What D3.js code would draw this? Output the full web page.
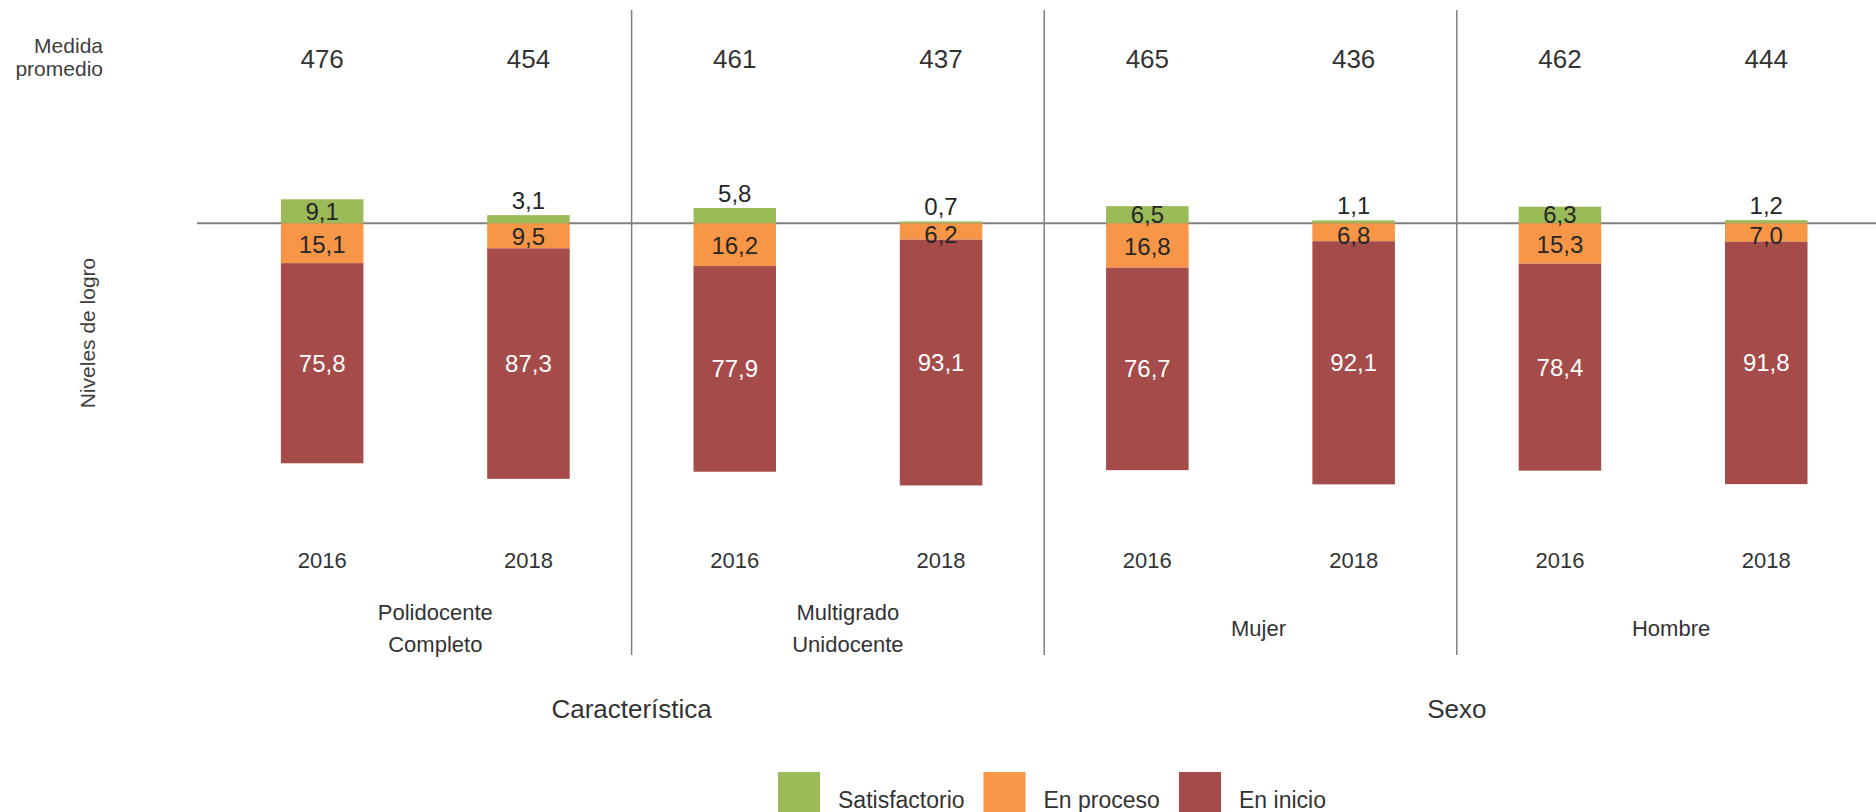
<!DOCTYPE html>
<html>
<head>
<meta charset="utf-8">
<script src="https://cdn.jsdelivr.net/npm/d3@7"></script>
<style>
    body { margin: 0; background: #fff; }
    svg { display: block; font-family: "Liberation Sans", Arial, sans-serif; }
</style>
</head>
<body>
<svg id="chart" width="1876" height="812"></svg>
<script>
// Data
const groups = [["Polidocente", "Completo"], ["Multigrado", "Unidocente"], ["Mujer"], ["Hombre"]];
const years = ["2016", "2018"];
const dimensions = [
    { name: "Característica", groups: [0, 1] },
    { name: "Sexo", groups: [2, 3] }
];
const satisfactorio = [9.1, 3.1, 5.8, 0.7, 6.5, 1.1, 6.3, 1.2];
const enProceso = [15.1, 9.5, 16.2, 6.2, 16.8, 6.8, 15.3, 7.0];
const enInicio = [75.8, 87.3, 77.9, 93.1, 76.7, 92.1, 78.4, 91.8];
const medidaPromedio = [476, 454, 461, 437, 465, 436, 462, 444];
const seriesNames = ["Satisfactorio", "En proceso", "En inicio"];
const seriesColors = ["#9BBB59", "#F79646", "#A54B4A"];

const textColor = "#404040";
const lineColor = "#808080";
const fmt = d3.formatLocale({ decimal: ",", thousands: ".", grouping: [3], currency: ["", ""] }).format(".1f");

// one entry per bar
const bars = [];
groups.forEach((g, gi) => {
    years.forEach((y, yi) => {
        const i = gi * years.length + yi;
        bars.push({
            key: `${gi}-${y}`, group: gi, year: y,
            sat: satisfactorio[i], proc: enProceso[i], ini: enInicio[i],
            medida: medidaPromedio[i]
        });
    });
});

const svg = d3.select("#chart");

const x = d3.scaleBand()
    .domain(bars.map(d => d.key))
    .range([219, 1869.4])
    .paddingInner(0.6)
    .paddingOuter(0.3);

// green grows upwards from 0, orange and red hang below it
const y = d3.scaleLinear().domain([-30, 100]).range([144.1, 487.3]);
const y0 = y(0);
const step = x.step();

// baseline
svg.append("line")
    .attr("x1", 197).attr("x2", 1876)
    .attr("y1", y0).attr("y2", y0)
    .attr("stroke", lineColor).attr("stroke-width", 2);

// group separators
for (let gi = 1; gi < groups.length; gi++) {
    const sx = x.range()[0] + gi * years.length * step;
    svg.append("line")
        .attr("x1", sx).attr("x2", sx)
        .attr("y1", 10).attr("y2", 655)
        .attr("stroke", lineColor).attr("stroke-width", 1.5);
}

const barG = svg.append("g")
    .selectAll("g")
    .data(bars)
    .join("g")
    .attr("transform", d => `translate(${x(d.key)},0)`);

const bw = x.bandwidth();

barG.append("rect")
    .attr("width", bw)
    .attr("y", d => y(-d.sat))
    .attr("height", d => y0 - y(-d.sat))
    .attr("fill", seriesColors[0]);

barG.append("rect")
    .attr("width", bw)
    .attr("y", y0)
    .attr("height", d => y(d.proc) - y0)
    .attr("fill", seriesColors[1]);

barG.append("rect")
    .attr("width", bw)
    .attr("y", d => y(d.proc))
    .attr("height", d => y(d.proc + d.ini) - y(d.proc))
    .attr("fill", seriesColors[2]);

// segment labels - small green values sit on top of the bar
barG.append("text")
    .attr("x", bw / 2)
    .attr("y", d => d.sat < 6 ? y(-d.sat) - 6 : (y(-d.sat) + y0) / 2)
    .attr("dominant-baseline", d => d.sat < 6 ? "auto" : "central")
    .attr("text-anchor", "middle")
    .attr("font-size", 24)
    .attr("fill", "#262626")
    .text(d => fmt(d.sat));

barG.append("text")
    .attr("x", bw / 2)
    .attr("y", d => (y0 + y(d.proc)) / 2 + (d.proc < 8 ? 3 : 1))
    .attr("dominant-baseline", "central")
    .attr("text-anchor", "middle")
    .attr("font-size", 24)
    .attr("fill", "#262626")
    .text(d => fmt(d.proc));

barG.append("text")
    .attr("x", bw / 2)
    .attr("y", d => (y(d.proc) + y(d.proc + d.ini)) / 2)
    .attr("dominant-baseline", "central")
    .attr("text-anchor", "middle")
    .attr("font-size", 24)
    .attr("fill", "#fff")
    .text(d => fmt(d.ini));

// medida promedio row
barG.append("text")
    .attr("x", bw / 2)
    .attr("y", 68)
    .attr("text-anchor", "middle")
    .attr("font-size", 26)
    .attr("fill", "#333")
    .text(d => d.medida);

// year labels
barG.append("text")
    .attr("x", bw / 2)
    .attr("y", 568)
    .attr("text-anchor", "middle")
    .attr("font-size", 22)
    .attr("fill", "#333")
    .text(d => d.year);

// group labels
groups.forEach((lines, gi) => {
    const cx = x.range()[0] + (gi + 0.5) * years.length * step;
    const lh = 31.7;
    const top = 636 - (lines.length - 1) * lh / 2;
    const t = svg.append("text")
        .attr("text-anchor", "middle")
        .attr("font-size", 22)
        .attr("fill", "#333");
    lines.forEach((line, li) => {
        t.append("tspan")
            .attr("x", cx + (lines.length > 1 ? 10 : 8))
            .attr("y", top + li * lh)
            .text(line);
    });
});

// dimension labels
dimensions.forEach(dim => {
    const first = dim.groups[0];
    const last = dim.groups[dim.groups.length - 1];
    const cx = x.range()[0] + (first + last + 1) / 2 * years.length * step;
    svg.append("text")
        .attr("x", cx)
        .attr("y", 718)
        .attr("text-anchor", "middle")
        .attr("font-size", 26)
        .attr("fill", "#333")
        .text(dim.name);
});

// left side titles
svg.append("text")
    .attr("text-anchor", "end")
    .attr("font-size", 21)
    .attr("fill", textColor)
    .selectAll("tspan")
    .data(["Medida", "promedio"])
    .join("tspan")
    .attr("x", 103)
    .attr("y", (d, i) => 52.5 + i * 23)
    .text(d => d);

svg.append("text")
    .attr("transform", "translate(95,333) rotate(-90)")
    .attr("text-anchor", "middle")
    .attr("font-size", 21)
    .attr("fill", textColor)
    .text("Niveles de logro");

// legend
const legendX = [778, 983.5, 1179];
const legend = svg.append("g")
    .selectAll("g")
    .data(seriesNames)
    .join("g")
    .attr("transform", (d, i) => `translate(${legendX[i]},772)`);

legend.append("rect")
    .attr("width", 42)
    .attr("height", 42)
    .attr("fill", (d, i) => seriesColors[i]);

legend.append("text")
    .attr("x", 60)
    .attr("y", 36)
    .attr("font-size", 23)
    .attr("fill", "#333")
    .text(d => d);
</script>
</body>
</html>
